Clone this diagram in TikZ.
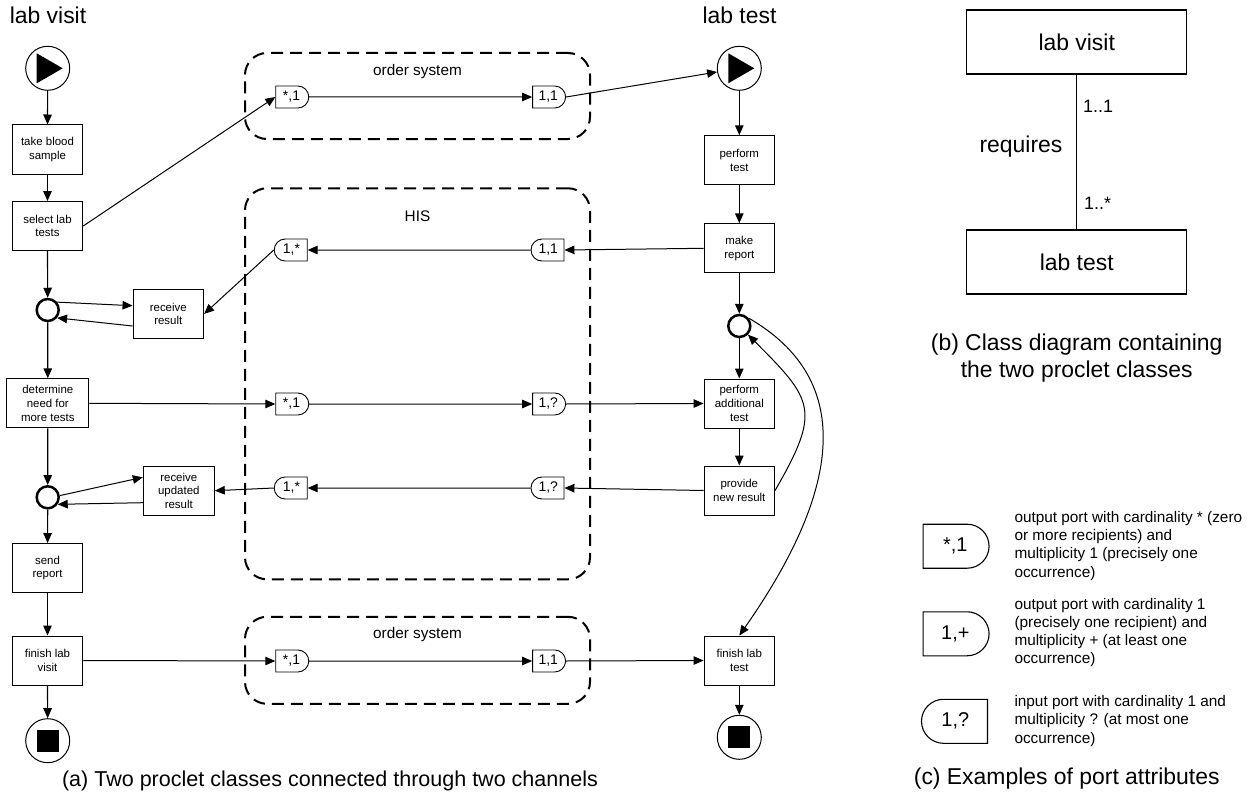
\documentclass[tikz,border=0pt]{standalone}
\usepackage{fontspec}
\setmainfont{Liberation Sans}
\usetikzlibrary{arrows.meta,shapes.misc,calc}
\begin{document}
\begin{tikzpicture}[x=1bp,y=-1bp,
  act/.style={draw, line width=1bp, minimum width=70.5bp, minimum height=49bp, inner sep=1bp, align=center, font=\fontsize{11.5}{13.8}\selectfont},
  flow/.style={-{Triangle[length=10bp,width=8.5bp]}, line width=1.2bp},
  chan/.style={-{Triangle[length=10bp,width=8.5bp]}, line width=1bp},
  portbase/.style={draw, line width=0.9bp, rounded rectangle, minimum width=33bp, minimum height=22bp, inner sep=0bp, font=\fontsize{14}{16}\selectfont},
  outport/.style={portbase, rounded rectangle west arc=none},
  inport/.style={portbase, rounded rectangle east arc=none},
  bigout/.style={outport, line width=1.1bp, minimum width=66bp, minimum height=44bp, font=\fontsize{20}{22}\selectfont},
  bigin/.style={inport, line width=1.1bp, minimum width=66bp, minimum height=44bp, font=\fontsize{20}{22}\selectfont},
  joinc/.style={circle, draw, line width=2.5bp, minimum size=22bp, inner sep=0bp},
  evt/.style={circle, draw, line width=1bp, minimum size=44bp, inner sep=0bp},
  chanbox/.style={draw, line width=2bp, dash pattern=on 12bp off 7bp, rounded corners=22bp, minimum width=345bp, inner sep=0bp},
  chanlbl/.style={font=\fontsize{15.4}{18}\selectfont},
  big/.style={font=\fontsize{23}{27}\selectfont},
  classbox/.style={draw, line width=1.5bp, minimum width=220bp, minimum height=64bp, font=\fontsize{23}{27}\selectfont},
  legtext/.style={anchor=west, align=left, inner sep=0bp, font=\fontsize{15.4}{18.3}\selectfont}
]
\useasboundingbox (0,0) rectangle (1255,799);
\fill[white] (0,0) rectangle (1255,799);

% channels
\node[chanbox, minimum height=86bp] (os1) at (417.5,96) {};
\node[chanlbl] (os1l) at (417.5,72) {order system};
\node[chanbox, minimum height=391bp] (his) at (417.5,383.8) {};
\node[chanlbl] (hisl) at (417.5,216.7) {HIS};
\node[chanbox, minimum height=87bp] (os2) at (417.5,660.3) {};
\node[chanlbl] (os2l) at (417.5,634.3) {order system};

% titles
\node[big] (t1) at (48,15) {lab visit};
\node[big] (t2) at (739.5,15) {lab test};

% lab visit column
\node[evt] (s1) at (47.7,68.3) {};
\fill[shift={(s1)}] (-11,-15) -- (15,0) -- (-11,15) -- cycle;
\node[act] (a1) at (47.5,149.5) {take blood\\sample};
\node[act] (a2) at (47.5,226) {select lab\\tests};
\node[joinc] (j1) at (47.7,310) {};
\node[act] (rr) at (168.3,314) {receive\\result};
\node[act, minimum width=82bp] (a3) at (47.8,403.3) {determine\\need for\\more tests};
\node[joinc] (j2) at (47.7,497.3) {};
\node[act, minimum width=71bp] (rur) at (178.8,490.7) {receive\\updated\\result};
\node[act] (a4) at (47.5,568) {send\\report};
\node[act] (a5) at (47.5,660.5) {finish lab\\visit};
\node[evt] (e1) at (47.7,740.7) {};
\fill[shift={(e1)}] (-11,-11) rectangle (11,11);

% lab test column
\node[evt] (s2) at (739.3,68.3) {};
\fill[shift={(s2)}] (-11,-15) -- (15,0) -- (-11,15) -- cycle;
\node[act] (b1) at (739.3,160.3) {perform\\test};
\node[act] (b2) at (739.3,248.3) {make\\report};
\node[joinc] (j3) at (739.3,326) {};
\node[act] (b3) at (739.3,403.5) {perform\\additional\\test};
\node[act] (b4) at (739.3,490.5) {provide\\new result};
\node[act] (b5) at (739.3,660.5) {finish lab\\test};
\node[evt] (e2) at (739.3,737.3) {};
\fill[shift={(e2)}] (-11,-11) rectangle (11,11);

% ports
\node[outport] (p1) at (291.5,97) {*,1};
\node[outport] (p2) at (548.3,97) {1,1};
\node[inport] (p3) at (291.5,250) {1,*};
\node[inport] (p4) at (548.3,250) {1,1};
\node[outport] (p5) at (291.5,404) {*,1};
\node[outport] (p6) at (548.3,404) {1,?};
\node[inport] (p7) at (291.5,488) {1,*};
\node[inport] (p8) at (548.3,488) {1,?};
\node[outport] (p9) at (291.5,661) {*,1};
\node[outport] (p10) at (548.3,661) {1,1};

% control flow
\draw[flow] (s1) -- (a1);
\draw[flow] (a1) -- (a2);
\draw[flow] (a2) -- (j1);
\draw[flow] (j1) -- (a3);
\draw[flow] (a3) -- (j2);
\draw[flow] (j2) -- (a4);
\draw[flow] (a4) -- (a5);
\draw[flow] (a5) -- (e1);
\draw[chan] (j1.40) -- ([yshift=8.3bp]rr.west);
\draw[chan] ([yshift=-12bp]rr.west) -- (j1.-40);
\draw[chan] (j2.8) -- ([yshift=13.4bp]rur.west);
\draw[chan] ([yshift=-12bp]rur.west) -- (j2.-35);

\draw[flow] (s2) -- (b1);
\draw[flow] (b1) -- (b2);
\draw[flow] (b2) -- (j3);
\draw[flow] (j3) -- (b3);
\draw[flow] (b3) -- (b4);
\draw[flow] (b5) -- (e2);
\draw[chan] (b4.east) to[out=60,in=-45,looseness=1.5] (j3.-45);
\draw[chan] (j3.40) to[out=-30,in=55,looseness=1.15] (b5.north);

% channel flows
\draw[chan] (a2.east) -- (p1.west);
\draw[chan] (p1) -- (p2);
\draw[chan] (p2.east) -- (s2);
\draw[chan] (b2.west) -- (p4.east);
\draw[chan] (p4) -- (p3);
\draw[chan] (p3.west) -- (rr.east);
\draw[chan] (a3.east) -- (p5.west);
\draw[chan] (p5) -- (p6);
\draw[chan] (p6.east) -- (b3.west);
\draw[chan] (b4.west) -- (p8.east);
\draw[chan] (p8) -- (p7);
\draw[chan] (p7.west) -- (rur.east);
\draw[chan] (a5.east) -- (p9.west);
\draw[chan] (p9) -- (p10);
\draw[chan] (p10.east) -- (b5.west);

% caption a
\node[font=\fontsize{21.6}{26}\selectfont] (capa) at (330,781) {(a) Two proclet classes connected through two channels};

% class diagram
\node[classbox] (cv) at (1076.7,42) {lab visit};
\node[classbox] (ct) at (1076.7,262) {lab test};
\draw[line width=1.5bp] (cv) -- (ct);
\node[font=\fontsize{18}{20}\selectfont, anchor=west, inner sep=0bp] (m1) at (1083,106.7) {1..1};
\node[font=\fontsize{18}{20}\selectfont, anchor=west, inner sep=0bp] (m2) at (1084,203.3) {1..*};
\node[big] (req) at (1021,146.7) {requires};
\node[big, align=center] (capb) at (1076.7,358.5) {(b) Class diagram containing\\the two proclet classes};

% legend
\node[bigout] (lp1) at (955.3,546.2) {*,1};
\node[bigout] (lp2) at (955.3,633.8) {1,+};
\node[bigin] (lp3) at (955.3,721.3) {1,?};
\node[legtext] (lt1) at (1014.3,545.8) {output port with cardinality * (zero\\or more recipients) and\\multiplicity 1 (precisely one\\occurrence)};
\node[legtext] (lt2) at (1014.3,632.5) {output port with cardinality 1\\(precisely one recipient) and\\multiplicity + (at least one\\occurrence)};
\node[legtext] (lt3) at (1014.3,721) {input port with cardinality 1 and\\multiplicity ? (at most one\\occurrence)};
\node[big] (capc) at (1066.7,779) {(c) Examples of port attributes};
\end{tikzpicture}
\end{document}
